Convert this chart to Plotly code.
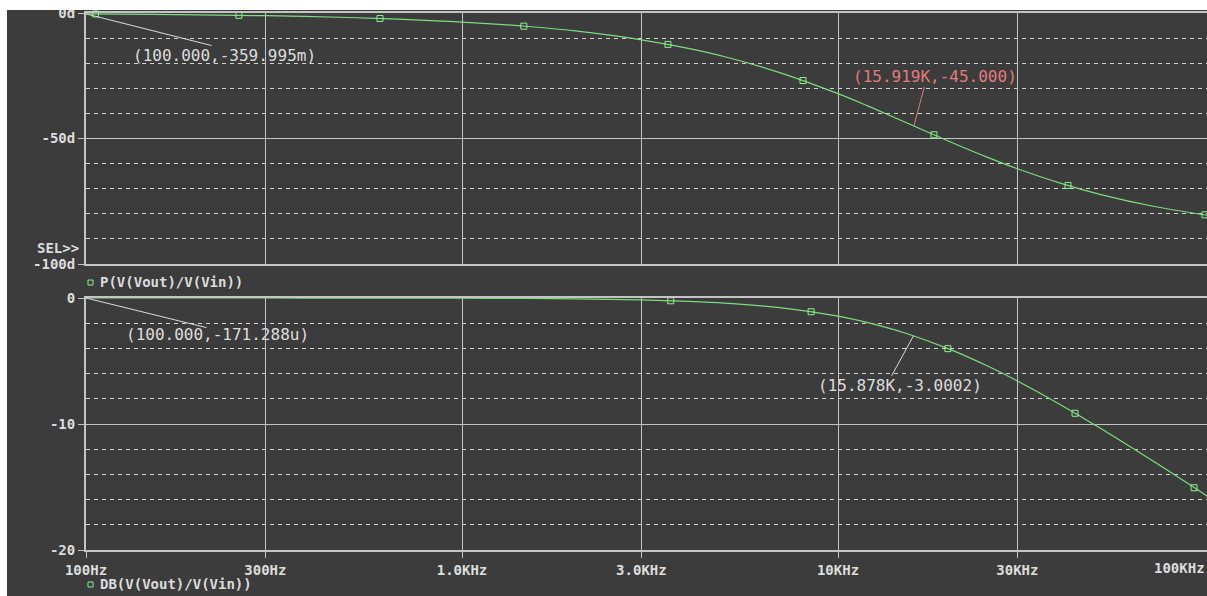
import math
import plotly.graph_objects as go

# Frequency sweep (Hz) and the two response traces
freq = [100, 150, 200, 300, 500, 700, 1000, 1500, 2000, 3000, 4000, 5000, 7000,
        10000, 12000, 15000, 20000, 25000, 30000, 40000, 50000, 70000, 100000]
phase_deg = [-0.36, -0.54, -0.72, -1.08, -1.80, -2.52, -3.60, -5.38, -7.16, -10.68,
             -14.11, -17.44, -23.74, -32.14, -37.02, -43.31, -51.49, -57.52, -62.05,
             -68.30, -72.35, -77.19, -80.96]
gain_db = [-0.0002, -0.0004, -0.0007, -0.0015, -0.0043, -0.0084, -0.017, -0.038,
           -0.068, -0.152, -0.266, -0.409, -0.768, -1.445, -1.954, -2.760, -4.115,
           -5.400, -6.583, -8.643, -10.362, -13.084, -16.072]

# Trace symbols placed along each curve
phase_sym_freq = [106, 255, 605, 1460, 3530, 8070, 18000, 40900, 94600]
phase_sym_val = [-0.38, -0.92, -2.18, -5.25, -12.5, -26.9, -48.5, -68.7, -80.4]
gain_sym_freq = [3590, 8480, 19600, 42700, 88500]
gain_sym_val = [-0.22, -1.09, -4.02, -9.15, -15.06]

# Cursor read-outs
cursor_phase_start = (100, -0.359995)
cursor_phase_3db = (15919, -45.000)
cursor_gain_start = (100, -0.000171288)
cursor_gain_3db = (15878, -3.0002)

x_ticks = [100, 300, 1000, 3000, 10000, 30000]
x_tick_text = ["100Hz", "300Hz", "1.0KHz", "3.0KHz", "10KHz", "30KHz"]
x_last_label = "100KHz"

W, H = 1207, 596
BG = "#3c3c3c"
GRID = "#c4c4c4"
DASH = "#d2d2d2"
TXT = "#dcdcdc"
GREEN = "#7ddc7d"
SYM = "#8cf08c"
RED = "#e27b7b"
MONO = "DejaVu Sans Mono"
DECADE_PX = 376
X0_PX = 86


def px_x(p):
    return p / W


def px_y(p):
    return 1 - p / H


x_dom = [px_x(X0_PX), 1.0]
x_rng = [2, 2 + (W - X0_PX) / DECADE_PX]

fig = go.Figure()

fig.add_trace(go.Scatter(x=freq, y=phase_deg, mode="lines", line=dict(color=GREEN, width=1.2, shape="spline"),
                         xaxis="x", yaxis="y", cliponaxis=True, showlegend=False))
fig.add_trace(go.Scatter(x=phase_sym_freq, y=phase_sym_val, mode="markers",
                         marker=dict(symbol="square-open", size=6, color=SYM, line=dict(width=1)),
                         xaxis="x", yaxis="y", cliponaxis=False, showlegend=False))
fig.add_trace(go.Scatter(x=freq, y=gain_db, mode="lines", line=dict(color=GREEN, width=1.2, shape="spline"),
                         xaxis="x2", yaxis="y2", cliponaxis=True, showlegend=False))
fig.add_trace(go.Scatter(x=gain_sym_freq, y=gain_sym_val, mode="markers",
                         marker=dict(symbol="square-open", size=6, color=SYM, line=dict(width=1)),
                         xaxis="x2", yaxis="y2", cliponaxis=False, showlegend=False))

tick_font = dict(family=MONO, size=14, color=TXT, weight="bold")

common_x = dict(type="log", range=x_rng, domain=x_dom, tickvals=x_ticks, automargin=False,
                showgrid=True, gridcolor=GRID, gridwidth=1, zeroline=False,
                showline=True, linecolor=GRID, linewidth=2, mirror=True)

fig.update_layout(
    template="none",
    width=W, height=H,
    margin=dict(l=0, r=0, t=0, b=0, pad=0, autoexpand=False),
    paper_bgcolor=BG, plot_bgcolor=BG,
    showlegend=False,
    xaxis=dict(**common_x, anchor="y", showticklabels=False, ticks=""),
    xaxis2=dict(**common_x, anchor="y2", ticktext=x_tick_text, ticks="outside",
                ticklen=6, tickcolor=GRID, tickfont=tick_font),
    yaxis=dict(domain=[px_y(264), px_y(13)], range=[-100, 0], anchor="x", automargin=False,
               tickvals=[-100, -50, 0], ticktext=["-100d", "-50d", "0d"],
               ticks="outside", ticklen=6, tickcolor=GRID, tickfont=tick_font,
               showgrid=True, gridcolor=GRID, gridwidth=1, zeroline=False,
               showline=True, linecolor=GRID, linewidth=2,
               minor=dict(tickvals=[-90, -80, -70, -60, -40, -30, -20, -10], showgrid=True,
                          gridcolor=DASH, griddash="4px,4px", gridwidth=1, ticks="")),
    yaxis2=dict(domain=[px_y(550), px_y(298)], range=[-20, 0], anchor="x2", automargin=False,
                tickvals=[-20, -10, 0], ticktext=["-20", "-10", "0"],
                ticks="outside", ticklen=6, tickcolor=GRID, tickfont=tick_font,
                showgrid=True, gridcolor=GRID, gridwidth=1, zeroline=False,
                showline=True, linecolor=GRID, linewidth=2,
                minor=dict(tickvals=[-18, -16, -14, -12, -8, -6, -4, -2], showgrid=True,
                           gridcolor=DASH, griddash="4px,4px", gridwidth=1, ticks="")),
)

ann = []
lab_font = dict(family=MONO, size=16, color=TXT)
red_font = dict(family=MONO, size=16, color=RED)

# cursor pointer lines
for (f, v), xr, yr, dx, dy, col in [
    (cursor_phase_start, "x", "y", 127, 32, TXT),
    (cursor_gain_start, "x2", "y2", 122, 30, TXT),
    (cursor_phase_3db, "x", "y", 11, -41, RED),
    (cursor_gain_3db, "x2", "y2", -23, 42, TXT),
]:
    ann.append(dict(x=math.log10(f), y=v, xref=xr, yref=yr, text=" ", font=dict(size=1),
                    showarrow=True, arrowhead=0, arrowwidth=1, arrowcolor=col,
                    ax=dx, ay=dy, standoff=0, startstandoff=0))

# cursor read-out texts
ann += [
    dict(x=px_x(131), y=px_y(55), xref="paper", yref="paper", xanchor="left", yanchor="middle",
         text="(100.000,-359.995m)", showarrow=False, font=lab_font),
    dict(x=px_x(124), y=px_y(334), xref="paper", yref="paper", xanchor="left", yanchor="middle",
         text="(100.000,-171.288u)", showarrow=False, font=lab_font),
    dict(x=px_x(851), y=px_y(77), xref="paper", yref="paper", xanchor="left", yanchor="middle",
         text="(15.919K,-45.000)", showarrow=False, font=red_font),
    dict(x=px_x(816), y=px_y(385), xref="paper", yref="paper", xanchor="left", yanchor="middle",
         text="(15.878K,-3.0002)", showarrow=False, font=lab_font),
]

bold_font = dict(family=MONO, size=14, color=TXT, weight="bold")
ann += [
    dict(x=px_x(81), y=px_y(248), xref="paper", yref="paper", xanchor="right", yanchor="middle",
         text="SEL>>", showarrow=False, font=bold_font),
    dict(x=px_x(98), y=px_y(282), xref="paper", yref="paper", xanchor="left", yanchor="middle",
         text="P(V(Vout)/V(Vin))", showarrow=False, font=bold_font),
    dict(x=px_x(98), y=px_y(584), xref="paper", yref="paper", xanchor="left", yanchor="middle",
         text="DB(V(Vout)/V(Vin))", showarrow=False, font=bold_font),
    # last decade label, pulled in to stay inside the window
    dict(x=1.0, y=px_y(568), xref="paper", yref="paper", xanchor="right",
         yanchor="middle", text=x_last_label, showarrow=False, font=bold_font),
]
fig.update_layout(annotations=ann)

shapes = [
    # trace legend swatches
    dict(type="rect", xref="paper", yref="paper", x0=px_x(88), x1=px_x(93), y0=px_y(285), y1=px_y(280),
         line=dict(color=SYM, width=1), fillcolor="rgba(0,0,0,0)"),
    dict(type="rect", xref="paper", yref="paper", x0=px_x(88), x1=px_x(93), y0=px_y(587), y1=px_y(582),
         line=dict(color=SYM, width=1), fillcolor="rgba(0,0,0,0)"),
    # window frame
    dict(type="rect", xref="paper", yref="paper", x0=0, x1=px_x(7), y0=0, y1=1,
         fillcolor="white", line=dict(width=0), layer="above"),
    dict(type="rect", xref="paper", yref="paper", x0=0, x1=1, y0=px_y(10), y1=1,
         fillcolor="white", line=dict(width=0), layer="above"),
]
fig.update_layout(shapes=shapes)

fig.write_html("out.html")
